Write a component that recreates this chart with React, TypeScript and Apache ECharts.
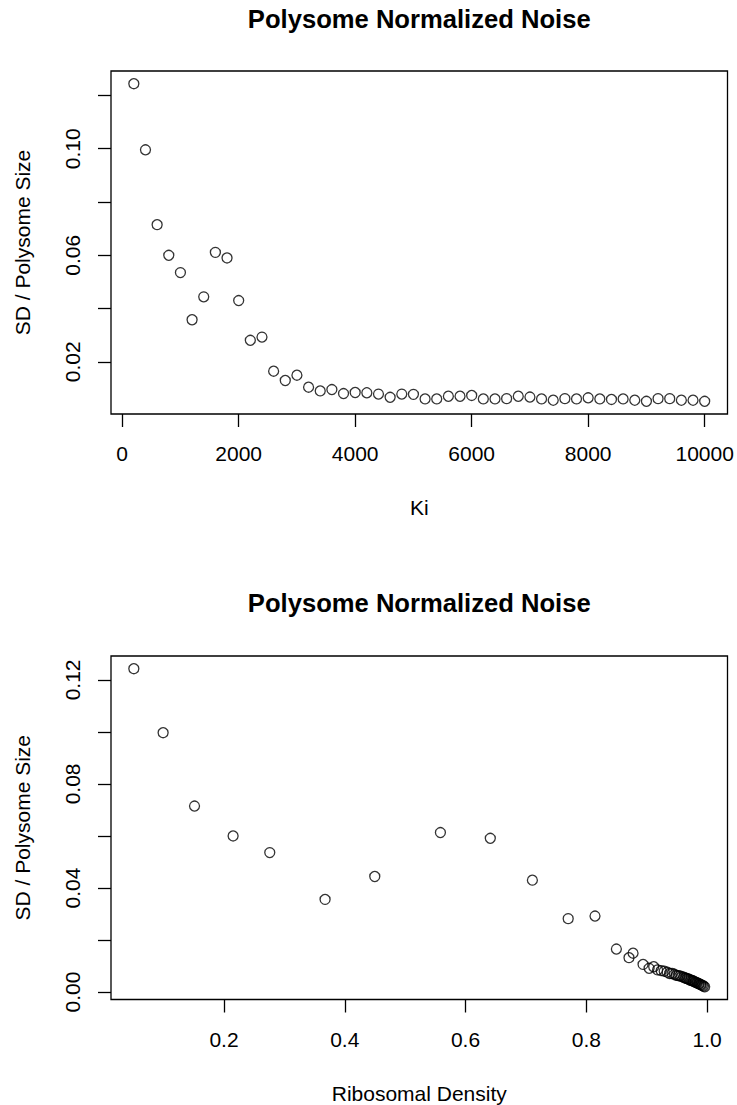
import React, { useEffect, useRef } from "react";
import * as echarts from "echarts";

// ---------- data ----------
const kiValues = [
  200, 400, 600, 800, 1000, 1200, 1400, 1600, 1800, 2000,
  2200, 2400, 2600, 2800, 3000, 3200, 3400, 3600, 3800, 4000,
  4200, 4400, 4600, 4800, 5000, 5200, 5400, 5600, 5800, 6000,
  6200, 6400, 6600, 6800, 7000, 7200, 7400, 7600, 7800, 8000,
  8200, 8400, 8600, 8800, 9000, 9200, 9400, 9600, 9800, 10000,
];
const noiseVsKi = [
  0.1244, 0.0996, 0.0715, 0.06, 0.0535, 0.0358, 0.0444, 0.0611, 0.059, 0.043,
  0.0281, 0.0293, 0.0165, 0.013, 0.015, 0.0105, 0.0091, 0.0096, 0.0081, 0.0085,
  0.0084, 0.0079, 0.0067, 0.0079, 0.0078, 0.0061, 0.0061, 0.0071, 0.0071, 0.0074,
  0.0061, 0.0061, 0.0062, 0.0071, 0.0068, 0.0061, 0.0056, 0.0062, 0.0061, 0.0065,
  0.0061, 0.0059, 0.0061, 0.0056, 0.0052, 0.0062, 0.0062, 0.0056, 0.0056, 0.0052,
];
const densityValues = [
  0.0507, 0.0992, 0.1512, 0.2151, 0.2758, 0.3674, 0.4497, 0.5584, 0.641, 0.7107,
  0.77, 0.8144, 0.8498, 0.8707, 0.8774, 0.894, 0.904, 0.9116, 0.918, 0.924,
  0.929, 0.934, 0.938, 0.942, 0.946, 0.949, 0.952, 0.955, 0.958, 0.961,
  0.963, 0.965, 0.967, 0.969, 0.971, 0.973, 0.975, 0.977, 0.978, 0.98,
  0.981, 0.983, 0.984, 0.986, 0.987, 0.989, 0.99, 0.992, 0.994, 0.996,
];
const noiseVsDensity = [
  0.1243, 0.0997, 0.0715, 0.06, 0.0536, 0.0356, 0.0444, 0.0613, 0.0591, 0.043,
  0.0282, 0.0292, 0.0165, 0.0132, 0.0149, 0.0106, 0.0091, 0.0097, 0.0085, 0.0082,
  0.0080, 0.0076, 0.0071, 0.0071, 0.0068, 0.0064, 0.0063, 0.0062, 0.0059, 0.0057,
  0.0054, 0.0053, 0.0051, 0.0050, 0.0047, 0.0045, 0.0044, 0.0042, 0.0041, 0.0039,
  0.0037, 0.0036, 0.0034, 0.0032, 0.0031, 0.0029, 0.0027, 0.0025, 0.0023, 0.002,
];

const kiTicks = [0, 2000, 4000, 6000, 8000, 10000];
const densityTicks = [0.2, 0.4, 0.6, 0.8, 1.0];
const topYTicks = [0.02, 0.04, 0.06, 0.08, 0.1, 0.12];
const topYLabels = [0.02, 0.06, 0.1];
const bottomYTicks = [0, 0.02, 0.04, 0.06, 0.08, 0.1, 0.12];
const bottomYLabels = [0, 0.04, 0.08, 0.12];

const titleText = "Polysome Normalized Noise";
const yName = "SD / Polysome Size";
const topXName = "Ki";
const bottomXName = "Ribosomal Density";

// ---------- style ----------
const FONT = "'Liberation Sans', Arial, Helvetica, sans-serif";
const FS = 21;

// R-style axis range: data range extended by 4% on each side
function rRange(vals: number[]): [number, number] {
  const lo = Math.min(...vals);
  const hi = Math.max(...vals);
  const d = (hi - lo) * 0.04;
  return [lo - d, hi + d];
}

function xAxisCfg(gridIndex: number, vals: number[], ticks: number[], name: string, fmt: (v: number) => string) {
  const [mn, mx] = rRange(vals);
  return {
    type: "value",
    gridIndex,
    min: mn,
    max: mx,
    name,
    nameLocation: "middle",
    nameGap: 83,
    nameTextStyle: { fontSize: FS, color: "#000", fontFamily: FONT },
    axisLine: { show: false, onZero: false },
    splitLine: { show: false },
    axisTick: { show: true, customValues: ticks, length: 13, lineStyle: { color: "#000", width: 1.3 } },
    axisLabel: { customValues: ticks, formatter: fmt, margin: 29, fontSize: FS, color: "#000", fontFamily: FONT },
  };
}

function yAxisCfg(gridIndex: number, vals: number[], ticks: number[], labels: number[]) {
  const [mn, mx] = rRange(vals);
  return {
    type: "value",
    gridIndex,
    min: mn,
    max: mx,
    name: yName,
    nameLocation: "middle",
    nameGap: 78,
    nameTextStyle: { fontSize: FS, color: "#000", fontFamily: FONT },
    axisLine: { show: false, onZero: false },
    splitLine: { show: false },
    axisTick: { show: true, customValues: ticks, length: 13, lineStyle: { color: "#000", width: 1.3 } },
    axisLabel: {
      customValues: labels,
      rotate: 90,
      formatter: (v: number) => v.toFixed(2),
      margin: 28,
      fontSize: FS,
      color: "#000",
      fontFamily: FONT,
    },
  };
}

function scatter(idx: number, xs: number[], ys: number[]) {
  return {
    type: "scatter",
    xAxisIndex: idx,
    yAxisIndex: idx,
    data: xs.map((x, i) => [x, ys[i]]),
    symbol: "circle",
    symbolSize: 10,
    silent: true,
    itemStyle: { color: "rgba(0,0,0,0)", borderColor: "#000", borderWidth: 1.3 },
    emphasis: { disabled: true },
  };
}

export default function App() {
  const ref = useRef<HTMLDivElement>(null);
  useEffect(() => {
    if (!ref.current) return;
    const chart = echarts.init(ref.current, undefined, { renderer: "svg" });
    const gridCommon = {
      left: 111,
      width: 616.5,
      show: true,
      borderColor: "#000",
      borderWidth: 1.3,
      backgroundColor: "transparent",
      containLabel: false,
    };
    chart.setOption({
      animation: false,
      backgroundColor: "#fff",
      grid: [
        { ...gridCommon, top: 71, height: 343 },
        { ...gridCommon, top: 656, height: 343.5 },
      ],
      xAxis: [
        xAxisCfg(0, kiValues, kiTicks, topXName, (v: number) => String(v)),
        xAxisCfg(1, densityValues, densityTicks, bottomXName, (v: number) => v.toFixed(1)),
      ],
      yAxis: [
        yAxisCfg(0, noiseVsKi, topYTicks, topYLabels),
        yAxisCfg(1, noiseVsDensity, bottomYTicks, bottomYLabels),
      ],
      graphic: [
        {
          type: "text",
          x: 419.25,
          y: 18.5,
          style: { text: titleText, font: `bold 25.6px ${FONT}`, fill: "#000", align: "center", verticalAlign: "middle" },
        },
        {
          type: "text",
          x: 419.25,
          y: 602.5,
          style: { text: titleText, font: `bold 25.6px ${FONT}`, fill: "#000", align: "center", verticalAlign: "middle" },
        },
      ],
      series: [scatter(0, kiValues, noiseVsKi), scatter(1, densityValues, noiseVsDensity)],
    });
    return () => chart.dispose();
  }, []);
  return (
    <div
      ref={ref}
      style={{ position: "absolute", left: 0, top: 0, width: 737, height: 1105, background: "#fff" }}
    />
  );
}
